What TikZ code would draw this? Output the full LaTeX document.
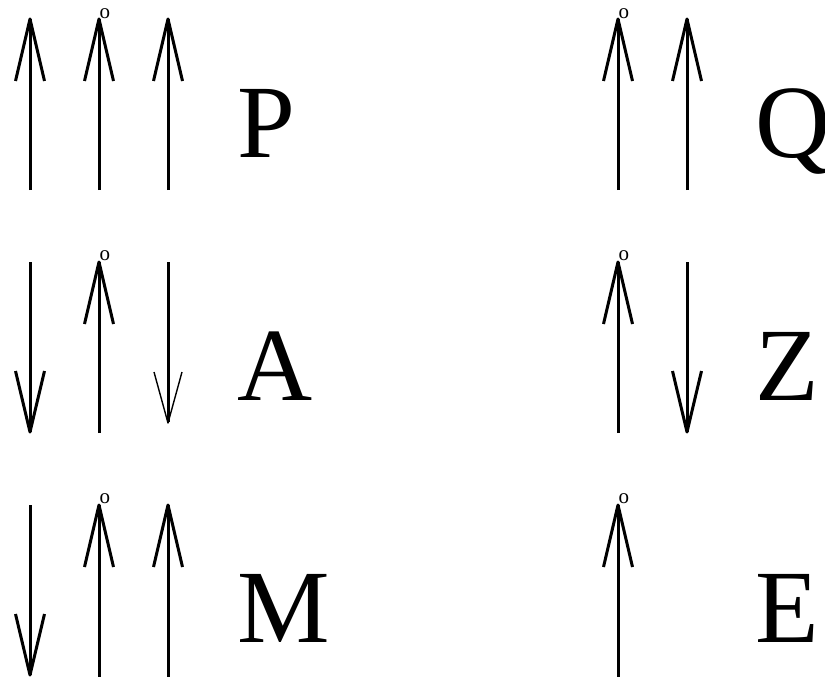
\documentclass[tikz,border=0pt]{standalone}
\usepackage{fontspec}
\setmainfont{LiberationSerif-Regular.ttf}
\begin{document}
\begin{tikzpicture}[x=1pt,y=-1pt,
  shaft/.style={line width=3pt},
  barb/.style={line width=3pt,line join=round},
  thinbarb/.style={line width=1.4pt,line join=round},
  big/.style={anchor=base west,inner sep=0pt,font=\fontsize{104}{104}\selectfont},
  tag/.style={anchor=base west,inner sep=0pt,font=\fontsize{21}{21}\selectfont}]
\clip (0,0) rectangle (825,677);
% up arrows: \upar{x}{tip}{bottom}
\def\upar#1#2#3{\draw[shaft] (#1,#3) -- (#1,#2);
  \draw[barb] (#1-14.5,#2+62) -- (#1,#2) -- (#1+14.5,#2+62);}
\def\downar#1#2#3{\draw[shaft] (#1,#2) -- (#1,#3);
  \draw[barb] (#1-14.5,#3-61) -- (#1,#3) -- (#1+14.5,#3-61);}
% row 1
\upar{30}{19}{190}
\upar{99}{19}{190}
\upar{168}{19}{190}
\upar{618}{19}{190}
\upar{687}{19}{190}
% row 2
\downar{30}{262}{432}
\upar{99}{262}{433}
\draw[shaft] (168,262) -- (168,422);
\draw[thinbarb] (154,372) -- (168,423) -- (182,372);
\upar{618}{262}{433}
\downar{687}{262}{432}
% row 3
\downar{30}{505}{675}
\upar{99}{505}{677}
\upar{168}{505}{677}
\upar{618}{505}{677}
% small o labels
\node[tag] (o1) at (99.5,18.5) {o};
\node[tag] (o2) at (99.5,260.5) {o};
\node[tag] (o3) at (99.5,503.5) {o};
\node[tag] (o4) at (618.5,18.5) {o};
\node[tag] (o5) at (618.5,260.5) {o};
\node[tag] (o6) at (618.5,503.5) {o};
% letters
\node[big] (P) at (237,157) {P};
\node[big] (A) at (237,400) {A};
\node[big] (M) at (237,642) {M};
\node[big] (Q) at (755,157) {Q};
\node[big] (Z) at (755,400) {Z};
\node[big] (E) at (755,642) {E};
\end{tikzpicture}
\end{document}
